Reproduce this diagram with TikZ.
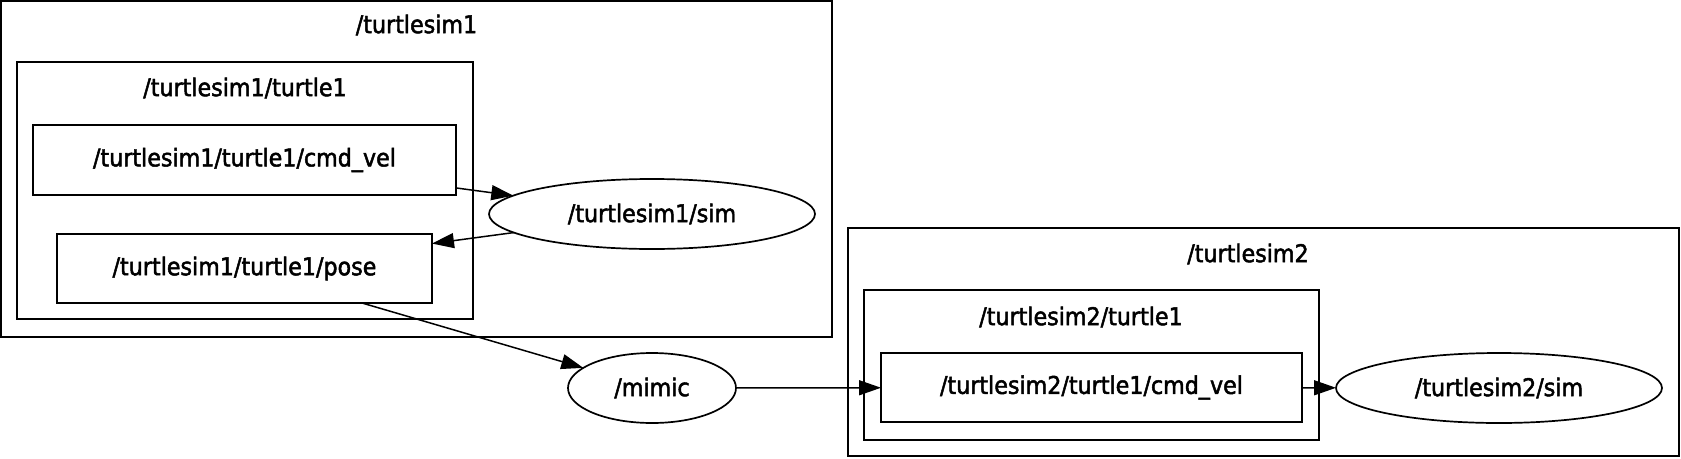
\documentclass[tikz,border=0pt]{standalone}
\usepackage{fontspec}
\setmainfont{DejaVu Sans}
\newfontfamily\lblfont{DejaVu Sans}[FakeBold=2, FakeStretch=0.91]
\usetikzlibrary{arrows.meta,shapes.geometric}
\begin{document}
\begin{tikzpicture}[x=1pt,y=-1pt,
  every node/.style={font=\lblfont\fontsize{24.4}{28}\selectfont, inner sep=0pt, outer sep=0pt},
  cluster/.style={draw, line width=1.7pt},
  topicbox/.style={draw, line width=1.7pt, rectangle},
  nodeell/.style={draw, line width=1.7pt, ellipse},
  edge/.style={line width=1.5pt, -{Triangle[length=22pt,width=15pt]}}]
\useasboundingbox (0,0) rectangle (1681,458);
% clusters
\draw[cluster] (1,1) rectangle (832,337);
\node (t1title) at (416.5,25) {/turtlesim1};
\draw[cluster] (17,62) rectangle (473,319);
\node (t1t1title) at (245,88) {/turtlesim1/turtle1};
\draw[cluster] (848,228) rectangle (1679,456);
\node (t2title) at (1248,254) {/turtlesim2};
\draw[cluster] (864,290) rectangle (1319,440);
\node (t2t1title) at (1081,317) {/turtlesim2/turtle1};
% nodes
\node[topicbox, minimum width=423pt, minimum height=70pt] (cmd1) at (244.5,160) {/turtlesim1/turtle1/cmd\_vel};
\node[topicbox, minimum width=375pt, minimum height=69pt] (pose1) at (244.5,268.5) {/turtlesim1/turtle1/pose};
\node[nodeell, minimum width=326pt, minimum height=70pt] (sim1) at (652,214) {/turtlesim1/sim};
\node[nodeell, minimum width=168pt, minimum height=70pt] (mimic) at (652,388) {/mimic};
\node[topicbox, minimum width=421pt, minimum height=69pt] (cmd2) at (1091.5,387.5) {/turtlesim2/turtle1/cmd\_vel};
\node[nodeell, minimum width=326pt, minimum height=70pt] (sim2) at (1499,388) {/turtlesim2/sim};
% edges
\draw[edge] (cmd1) -- (sim1);
\draw[edge] (sim1) -- (pose1);
\draw[edge] (pose1) -- (mimic);
\draw[edge] (mimic) -- (cmd2);
\draw[edge] (cmd2) -- (sim2);
\end{tikzpicture}
\end{document}
